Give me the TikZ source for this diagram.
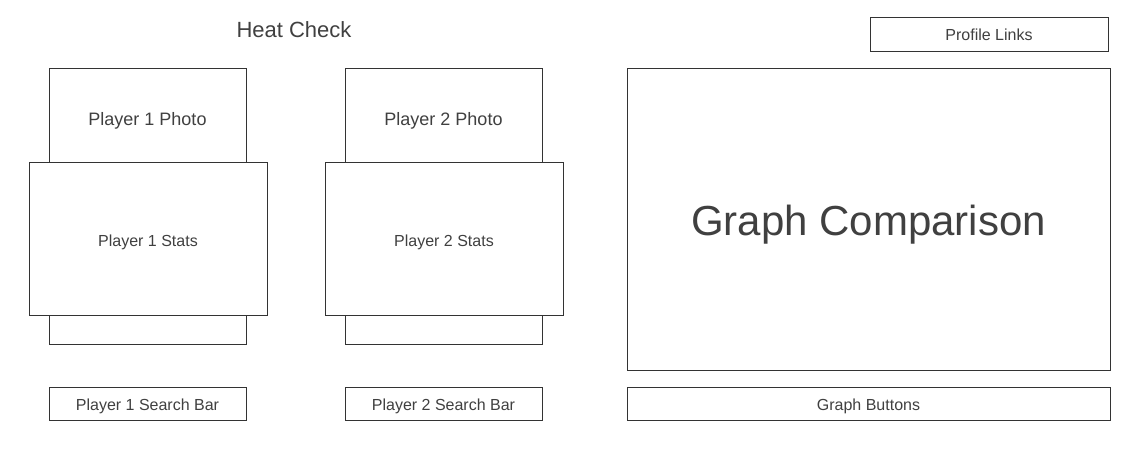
\documentclass[tikz,border=0pt]{standalone}
\usepackage{fontspec}
\setmainfont{Liberation Sans}
\usepackage{tikz}
\usetikzlibrary{positioning}
\definecolor{wire}{HTML}{333333}
\definecolor{ink}{HTML}{404040}
\tikzstyle{box} = [rectangle, draw=wire, line width=1pt, fill=white, inner sep=0pt, text=ink, text depth=0pt, text height=14.4pt, font=\fontsize{16}{19}\selectfont]
\tikzstyle{photo} = [box, minimum width=197pt, minimum height=276pt]
\tikzstyle{stats} = [box, text height=15pt, minimum width=238pt, minimum height=153pt]
\tikzstyle{bar} = [box, minimum width=197pt, minimum height=33pt]
\tikzstyle{caption} = [anchor=base, yshift=-57.7pt, text=ink, font=\fontsize{18}{22}\selectfont]

\begin{document}
\begin{tikzpicture}[x=1pt, y=-1pt, node distance = 16pt]
		
		\useasboundingbox (0,0) rectangle (1134,474);
		
		\node (Title) [anchor=base, text=ink, font=\fontsize{22}{26}\selectfont] at (294,37.3) {Heat Check};
		
		\node (PhotoOne) [photo, label={[caption]north:Player 1 Photo}] at (147.5,206) {};
		\node (StatsOne) [stats] at (148,238.5) {Player 1 Stats};
		\node (SearchOne) [bar, below = 42pt of PhotoOne] {Player 1 Search Bar};
		
		\node (PhotoTwo) [photo, label={[caption]north:Player 2 Photo}] at (443.5,206) {};
		\node (StatsTwo) [stats] at (444,238.5) {Player 2 Stats};
		\node (SearchTwo) [bar, below = 42pt of PhotoTwo] {Player 2 Search Bar};
		
		\node (Graph) [box, text height=32pt, minimum width=483pt, minimum height=302pt, font=\fontsize{42}{50}\selectfont] at (868.5,219) {Graph Comparison};
		\node (GraphButtons) [bar, minimum width=483pt, below = of Graph] {Graph Buttons};
		\node (ProfileLinks) [box, text height=11pt, minimum width=238pt, minimum height=34pt] at (989,34.5) {Profile Links};
		
\end{tikzpicture}
\end{document}
